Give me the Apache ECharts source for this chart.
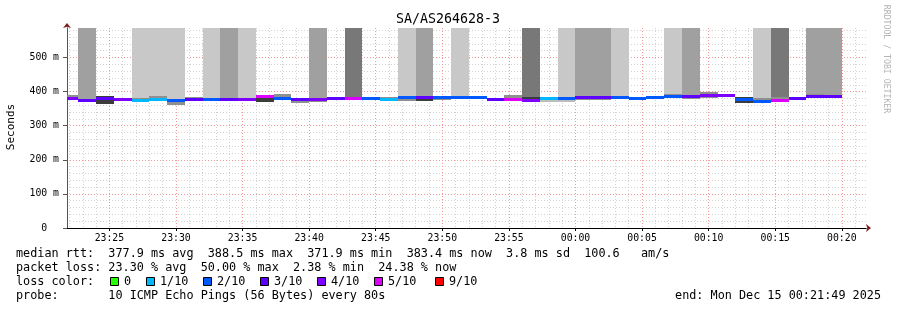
<!DOCTYPE html>
<html><head><meta charset="utf-8">
<script src="https://cdn.jsdelivr.net/npm/echarts@6/dist/echarts.min.js"></script>
<style>html,body{margin:0;padding:0;background:#fff}#c{width:897px;height:310px}</style>
</head><body><div id="c"></div><script>
// ---------- data ----------
const TITLE = 'SA/AS264628-3';
const X_START = '23:21:49';
const X_END = '00:21:49';
const FIRST_STEP_START = '23:21:20';
const STEP_SEC = 80;
const xTickLabels = ['23:25','23:30','23:35','23:40','23:45','23:50','23:55','00:00','00:05','00:10','00:15','00:20'];
const yTickValues = [0, 100, 200, 300, 400, 500];
const yTickLabels = ['0  ', '100 m', '200 m', '300 m', '400 m', '500 m'];
const Y_MAX = 586.5;

// per 80 s step (ms)
const medianMs = [379.5,375,379,377,373,376,373,377,378,376, 378,385,380,378,377,380,381,381,376,382, 382,382,382,382,378,376,374,381,381,382, 382,384,381,382,385,385,390,390,378,372, 375,380,385,386];
const lossTenths = [4,3,3,4,1,1,2,3,2,3, 4,5,2,3,4,3,5,2,1,2, 3,2,2,2,3,5,4,1,2,3, 3,2,2,2,2,3,4,4,2,2, 5,3,3,3];
const smokeLo = [376,371,364,374,372,374,362,376,375,374, 375,370,374,368,370,377,378,378,372,373, 372,375,378,380,371,374,373,370,370,376, 374,380,376,379,382,379,380,384,368,370, 374,377,381,382];
const smokeHi = [389,378,387,380,380,386,377,385,381,379, 381,386,393,381,380,382,385,383,385,386, 384,384,385,384,381,391,385,383,383,388, 385,387,385,384,394,391,399,393,384,381, 385,383,393,391];
const smokeShade = [2,2,3,2,2,2,2,2,2,2, 2,3,2,2,2,2,2,2,2,2, 3,2,2,2,2,2,3,1,1,2, 2,2,2,2,2,2,2,2,3,2, 2,2,2,2];
const tallShade = [0,2,0,0,1,1,1,0,1,2, 1,0,0,0,2,0,3,0,0,1, 2,0,1,0,0,0,3,0,1,2, 2,1,0,0,1,2,0,0,0,1, 3,0,2,2];

const lossLegendLabels = ['0','1/10','2/10','3/10','4/10','5/10','9/10'];
const lossLegendColors = ['#26ff00','#00b8ff','#0059ff','#5e00ff','#7e00ff','#dd00ff','#ff0000'];
const statLines = [
  'median rtt:  377.9 ms avg  388.5 ms max  371.9 ms min  383.4 ms now  3.8 ms sd  100.6   am/s',
  'packet loss: 23.30 % avg  50.00 % max  2.38 % min  24.38 % now',
  'loss color:',
  'probe:       10 ICMP Echo Pings (56 Bytes) every 80s'
];
const END_TEXT = 'end: Mon Dec 15 00:21:49 2025';
const WATERMARK = 'RRDTOOL / TOBI OETIKER';

// ---------- helpers ----------
function toSec(s) {
  const p = s.split(':').map(Number);
  let v = p[0] * 3600 + p[1] * 60 + (p[2] || 0);
  if (p[0] < 12) v += 86400;
  return v;
}
const xMin = toSec(X_START), xMax = toSec(X_END);
const firstStep = toSec(FIRST_STEP_START);
const majorX = xTickLabels.map(toSec);
const xLabelMap = {};
majorX.forEach((v, i) => xLabelMap[v] = xTickLabels[i]);
const minorX = [];
for (let t = Math.ceil(xMin / 60) * 60; t <= xMax; t += 60) if (t % 300 !== 0) minorX.push(t);
const minorY = [];
for (let v = 20; v < Y_MAX; v += 20) if (v % 100 !== 0) minorY.push(v);
const yLabelMap = {};
yTickValues.forEach((v, i) => yLabelMap[v] = yTickLabels[i]);

const lossColor = {};
lossLegendLabels.forEach((l, i) => lossColor[l === '0' ? 0 : parseInt(l)] = lossLegendColors[i]);
const TALL_COLORS = [null, '#c8c8c8', '#a0a0a0', '#787878'];
const SMOKE_COLORS = [null, '#bdbdbd', '#8f8f8f', '#3c3c3c'];

const data = medianMs.map((m, i) => [firstStep + i * STEP_SEC, firstStep + (i + 1) * STEP_SEC, m, smokeLo[i], smokeHi[i], lossTenths[i], smokeShade[i], tallShade[i]]);

const FONT = 'DejaVu Sans Mono';
const GRID_MINOR = '#d2d2d2';
const GRID_MAJOR = '#f19a9a';

function renderItem(params, api) {
  const t0 = Math.max(api.value(0), xMin), t1 = Math.min(api.value(1), xMax);
  const med = api.value(2), lo = api.value(3), hi = api.value(4);
  const loss = api.value(5), sh = api.value(6), tall = api.value(7);
  const xa = Math.round(api.coord([t0, 0])[0]);
  const xb = Math.round(api.coord([t1, 0])[0]);
  const w = xb - xa;
  const yMed = api.coord([t0, med])[1];
  const yLo = api.coord([t0, lo])[1];
  const yHi = api.coord([t0, hi])[1];
  const yTop = api.coord([t0, Y_MAX])[1];
  const ch = [];
  if (tall) ch.push({type: 'rect', shape: {x: xa, y: yTop, width: w, height: yMed - yTop}, style: {fill: TALL_COLORS[tall]}});
  ch.push({type: 'rect', shape: {x: xa, y: Math.round(yHi), width: w, height: Math.round(yLo) - Math.round(yHi)}, style: {fill: SMOKE_COLORS[sh]}});
  ch.push({type: 'rect', shape: {x: xa, y: Math.round(yMed - 1.5), width: w, height: 3}, style: {fill: lossColor[loss]}});
  return {type: 'group', children: ch};
}

// ---------- graphic text ----------
const T = (text, x, y, opt) => Object.assign({type: 'text', x, y, silent: true,
  style: Object.assign({text, fill: '#000', font: '11.8px "' + FONT + '"', align: 'left', verticalAlign: 'middle', textAlign: 'left', textVerticalAlign: 'middle'}, (opt && opt.style) || {})}, opt ? {rotation: opt.rotation || 0} : {});
const graphic = [
  T(TITLE, 448, 20, {style: {font: '13.3px "' + FONT + '"', align: 'center', textAlign: 'center'}}),
  T('Seconds', 11, 127, {rotation: Math.PI / 2, style: {font: '11px "' + FONT + '"', align: 'center', textAlign: 'center'}}),
  T(WATERMARK, 886, 59, {rotation: -Math.PI / 2, style: {font: '8.2px "' + FONT + '"', fill: '#b4b4b4', align: 'center', textAlign: 'center'}}),
  T(statLines[0], 16, 254),
  T(statLines[1], 16, 268),
  T(statLines[2], 16, 282),
  T(statLines[3], 16, 296),
  T(END_TEXT, 881, 296, {style: {align: 'right', textAlign: 'right'}})
];
const boxX = [110, 146, 203, 260, 317, 374, 435];
lossLegendLabels.forEach((l, i) => {
  graphic.push({type: 'rect', silent: true, shape: {x: boxX[i] + 0.5, y: 277.5, width: 8, height: 8}, style: {fill: lossLegendColors[i], stroke: '#000', lineWidth: 1}});
  graphic.push(T(l, boxX[i] + 14, 282));
});

// ---------- chart ----------
const chart = echarts.init(document.getElementById('c'), null, {renderer: 'canvas'});
const axisFont = {fontFamily: FONT, fontSize: 9.8, color: '#000'};
chart.setOption({
  animation: false,
  backgroundColor: '#fff',
  grid: {left: 67, right: 31, top: 28, bottom: 82, containLabel: false},
  xAxis: [
    {type: 'value', min: xMin, max: xMax, z: 1,
     axisLine: {show: true, onZero: false, lineStyle: {color: '#000', width: 1}},
     axisTick: {show: true, length: 3, customValues: majorX, lineStyle: {color: '#000'}},
     axisLabel: Object.assign({show: true, margin: 5, customValues: majorX, formatter: v => xLabelMap[v] || ''}, axisFont),
     splitLine: {show: true, lineStyle: {color: GRID_MAJOR, type: [1, 2], width: 1}}},
    {type: 'value', min: xMin, max: xMax, z: 0, position: 'bottom',
     axisLine: {show: true, onZero: false, symbol: ['none', 'arrow'], symbolSize: [6, 5], symbolOffset: [0, 5], lineStyle: {color: '#7f1f1f', width: 1}},
     axisTick: {show: false, customValues: minorX},
     axisLabel: {show: false, customValues: minorX},
     splitLine: {show: true, lineStyle: {color: GRID_MINOR, type: [1, 2], width: 1}}}
  ],
  yAxis: [
    {type: 'value', min: 0, max: Y_MAX, z: 1,
     axisLine: {show: true, onZero: false, lineStyle: {color: '#555', width: 1}},
     axisTick: {show: true, length: 4, customValues: yTickValues, lineStyle: {color: '#555'}},
     axisLabel: Object.assign({show: true, margin: 8, customValues: yTickValues, formatter: v => yLabelMap[v] !== undefined ? yLabelMap[v] : ''}, axisFont),
     splitLine: {show: true, lineStyle: {color: GRID_MAJOR, type: [1, 2], width: 1}}},
    {type: 'value', min: 0, max: Y_MAX, z: 0, position: 'left',
     axisLine: {show: true, onZero: false, symbol: ['none', 'arrow'], symbolSize: [6, 5], symbolOffset: [0, 5], lineStyle: {color: '#7f1f1f', width: 1}},
     axisTick: {show: false, customValues: minorY},
     axisLabel: {show: false, customValues: minorY},
     splitLine: {show: true, lineStyle: {color: GRID_MINOR, type: [1, 2], width: 1}}}
  ],
  graphic: graphic,
  series: [{
    type: 'custom', xAxisIndex: 0, yAxisIndex: 0, z: 2,
    renderItem: renderItem,
    encode: {x: [0, 1], y: [2, 3, 4]},
    data: data
  }]
});
</script></body></html>
